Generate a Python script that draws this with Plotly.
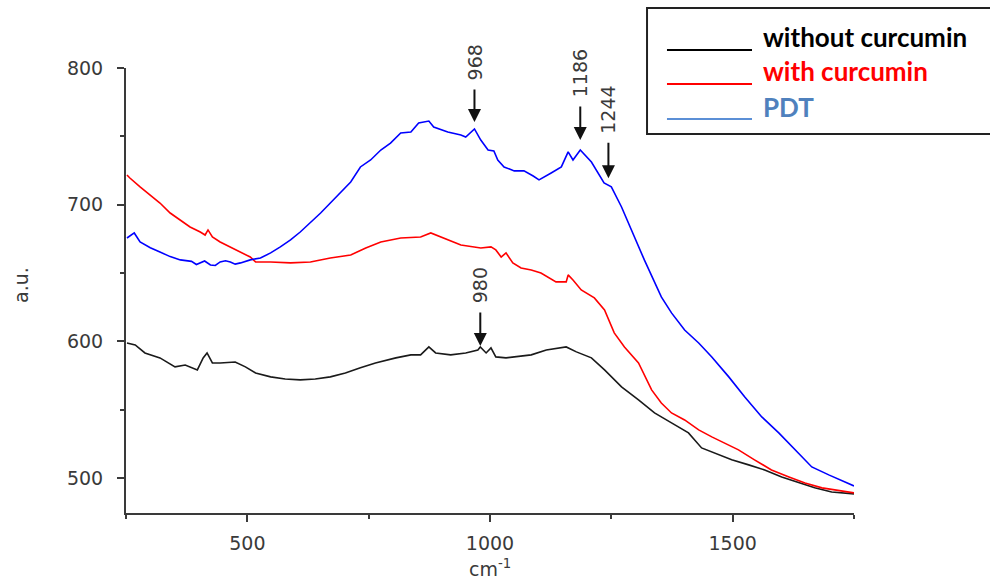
import numpy as np
import plotly.graph_objects as go

# ---- data ----
wn_pdt = [252, 267, 279, 300, 320, 341, 362, 385, 395, 403, 412, 424, 434, 444, 455, 465, 475, 486,
          497, 506, 527, 548, 568, 589, 609, 630, 651,
          671, 692, 713, 733, 754, 775, 795, 816, 837, 853, 874, 884, 913, 940, 950, 968, 981, 996,
          1008, 1016, 1029, 1050, 1070, 1089, 1101, 1126, 1147, 1161, 1171, 1186, 1209, 1235, 1250,
          1271, 1291, 1318, 1353, 1374, 1401, 1430, 1457, 1492, 1525, 1560, 1595, 1628, 1663, 1698,
          1731, 1750]
pdt = [675.6, 679.3, 672.7, 668.5, 665.4, 662.0, 659.6, 658.5, 656.2, 657.4, 658.8, 655.9, 655.5,
       658.1, 659.0, 658.1, 656.5, 657.4, 658.8, 659.6, 661.0, 664.7,
       669.1, 674.2, 680.0, 686.6, 693.9, 701.2, 708.6, 716.6, 727.6, 732.7, 740.0, 745.1, 752.5,
       753.2, 759.8, 761.2, 756.8, 753.2, 751.0, 749.5, 755.4, 747.3, 740.0, 739.3, 732.7, 727.6,
       724.7, 724.7, 721.0, 718.1, 723.2, 727.6, 738.6, 732.7, 740.0, 731.2, 715.9, 713.0, 698.3,
       681.5, 659.6, 632.5, 620.8, 608.3, 598.8, 588.6, 574.0, 559.3, 544.7, 533.0, 520.6, 508.1,
       502.3, 497.2, 494.2]

wn_with = [252, 258, 279, 300, 320, 341, 362, 382, 403, 413, 419, 428, 444, 465, 486, 506, 517, 548,
           589, 630, 671, 713, 744, 775, 816, 857, 878, 899, 940, 981, 1002, 1012, 1023, 1033, 1047,
           1064, 1085, 1105, 1136, 1157, 1161, 1171, 1188, 1215, 1236, 1256, 1277, 1306, 1333, 1353,
           1374, 1401, 1430, 1457, 1483, 1512, 1545, 1580, 1616, 1649, 1684, 1719, 1750]
with_cur = [721.7, 719.5, 713.0, 707.1, 701.2, 693.9, 688.8, 683.7, 680.0, 677.8, 681.5, 676.4,
            672.7, 669.1, 665.4, 661.7, 658.1, 658.1, 657.4, 658.1, 661.0, 663.2, 668.3, 672.7,
            675.6, 676.4, 679.3, 676.4, 670.5, 668.3, 669.1, 666.9, 661.7, 664.7, 657.4, 653.7,
            652.2, 650.0, 643.5, 643.5, 648.6, 644.9, 637.6, 631.8, 623.0, 606.2, 595.9, 584.2,
            564.5, 554.9, 547.6, 542.5, 535.2, 530.1, 525.7, 520.6, 513.3, 505.9, 500.8, 496.4,
            492.8, 490.6, 489.1]

wn_without = [252, 269, 289, 320, 351, 372, 397, 409, 417, 428, 444, 475, 496, 517, 548, 578, 609,
              640, 671, 702, 733, 764, 806, 837, 857, 874, 888, 919, 950, 975, 980, 992, 1002, 1012,
              1033, 1054, 1085, 1116, 1157, 1178, 1209, 1236, 1271, 1306, 1339, 1374, 1409, 1436,
              1463, 1498, 1533, 1566, 1601, 1636, 1669, 1704, 1750]
without_cur = [598.8, 597.4, 591.5, 587.9, 581.3, 582.7, 579.1, 587.9, 591.5, 584.2, 584.2, 584.9,
               581.3, 576.9, 574.0, 572.5, 571.8, 572.5, 574.0, 576.9, 580.6, 584.2, 587.9, 590.1,
               590.1, 595.9, 591.5, 590.1, 591.5, 593.7, 595.9, 591.5, 595.2, 588.6, 587.9, 588.6,
               590.1, 593.7, 595.9, 592.3, 587.9, 579.1, 566.7, 557.1, 547.6, 540.3, 533.0, 522.0,
               518.4, 513.3, 509.6, 505.9, 500.8, 496.4, 492.8, 489.8, 488.4]

series_names = ["without curcumin", "with curcumin", "PDT"]
series_colors = ["#1a1a1a", "#ff0000", "#0000ff"]
legend_text_colors = ["#000000", "#ff0000", "#4f81bd"]
legend_line_colors = ["#000000", "#ff0000", "#5b8fd6"]

pdt_peaks = [968, 1186, 1244]
without_peaks = [980]

x_range = [250, 1750]
y_range = [474.4, 800]
x_major = [500, 1000, 1500]
y_major = [500, 600, 700, 800]

# ---- figure ----
fig = go.Figure()
for xs, ys, name, col in [(wn_without, without_cur, series_names[0], series_colors[0]),
                          (wn_with, with_cur, series_names[1], series_colors[1]),
                          (wn_pdt, pdt, series_names[2], series_colors[2])]:
    fig.add_trace(go.Scatter(x=xs, y=ys, mode="lines", name=name,
                             line=dict(color=col, width=1.6), showlegend=False))

tick_font = dict(family="DejaVu Sans", size=19, color="#3a3a3a")
axis_col = "#3a3a3a"

fig.update_xaxes(range=x_range, showgrid=False, zeroline=False, showline=True,
                 linecolor=axis_col, linewidth=2, ticks="outside", ticklen=7, tickwidth=2,
                 tickcolor=axis_col, tickvals=x_major, tickfont=tick_font, ticklabelstandoff=5,
                 minor=dict(tick0=250, dtick=250, ticks="outside", ticklen=4, tickwidth=2,
                            tickcolor=axis_col, showgrid=False))
fig.update_yaxes(range=y_range, showgrid=False, zeroline=False, showline=True,
                 linecolor=axis_col, linewidth=2, ticks="outside", ticklen=7, tickwidth=2,
                 tickcolor=axis_col, tickvals=y_major, tickfont=tick_font, ticklabelstandoff=10,
                 minor=dict(tick0=500, dtick=50, ticks="outside", ticklen=4, tickwidth=2,
                            tickcolor=axis_col, showgrid=False))

ann_font = dict(family="DejaVu Sans", size=19, color="#3a3a3a")
# arrows: (x, series x, series y, ay, standoff, text yshift)
arrow_specs = [
    (pdt_peaks[0], wn_pdt, pdt, -41, 7, 67),
    (pdt_peaks[1], wn_pdt, pdt, -45, 10, 77),
    (pdt_peaks[2], wn_pdt, pdt, -44, 7, 76),
    (without_peaks[0], wn_without, without_cur, -36, 1, 62),
]
for px, xs, ys, ay, so, ysh in arrow_specs:
    yv = float(np.interp(px, xs, ys))
    fig.add_annotation(x=px, y=yv, xref="x", yref="y", text="", showarrow=True,
                       ax=0, ay=ay, arrowhead=2, arrowsize=1.3, arrowwidth=2,
                       arrowcolor="#111111", standoff=so)
    fig.add_annotation(x=px, y=yv, xref="x", yref="y", text=str(px), showarrow=False,
                       textangle=-90, yshift=ysh, xanchor="center", yanchor="middle",
                       font=ann_font)

# axis titles
fig.add_annotation(x=-0.1442, y=0.5124, xref="paper", yref="paper", text="a.u.",
                   showarrow=False, textangle=-90, xanchor="center", yanchor="middle",
                   font=dict(family="DejaVu Sans", size=19, color="#3a3a3a"))
fig.add_annotation(x=0.5, y=-0.124, xref="paper", yref="paper", text="cm<sup>-1</sup>",
                   showarrow=False, xanchor="center", yanchor="middle",
                   font=dict(family="DejaVu Sans", size=19, color="#3a3a3a"))

# custom legend box
fig.add_shape(type="rect", xref="paper", yref="paper", x0=0.7157, x1=1.21, y0=0.8517, y1=1.1348,
              line=dict(color="#222222", width=2), fillcolor="white", layer="above")
leg_line_y = [1.0404, 0.9640, 0.8854]
leg_text_y = [1.0697, 0.9933, 0.9124]
for i in range(3):
    fig.add_shape(type="line", xref="paper", yref="paper", x0=0.7431, x1=0.8599,
                  y0=leg_line_y[i], y1=leg_line_y[i],
                  line=dict(color=legend_line_colors[i], width=2), layer="above")
    fig.add_annotation(x=0.8722, y=leg_text_y[i], xref="paper", yref="paper",
                       text="<b>" + series_names[i] + "</b>", showarrow=False,
                       xanchor="left", yanchor="middle",
                       font=dict(family="Lato", size=26, color=legend_text_colors[i]))

fig.update_layout(width=990, height=582, margin=dict(l=126, r=136, t=68, b=69),
                  plot_bgcolor="white", paper_bgcolor="white", showlegend=False)

fig.write_html("out.html")
